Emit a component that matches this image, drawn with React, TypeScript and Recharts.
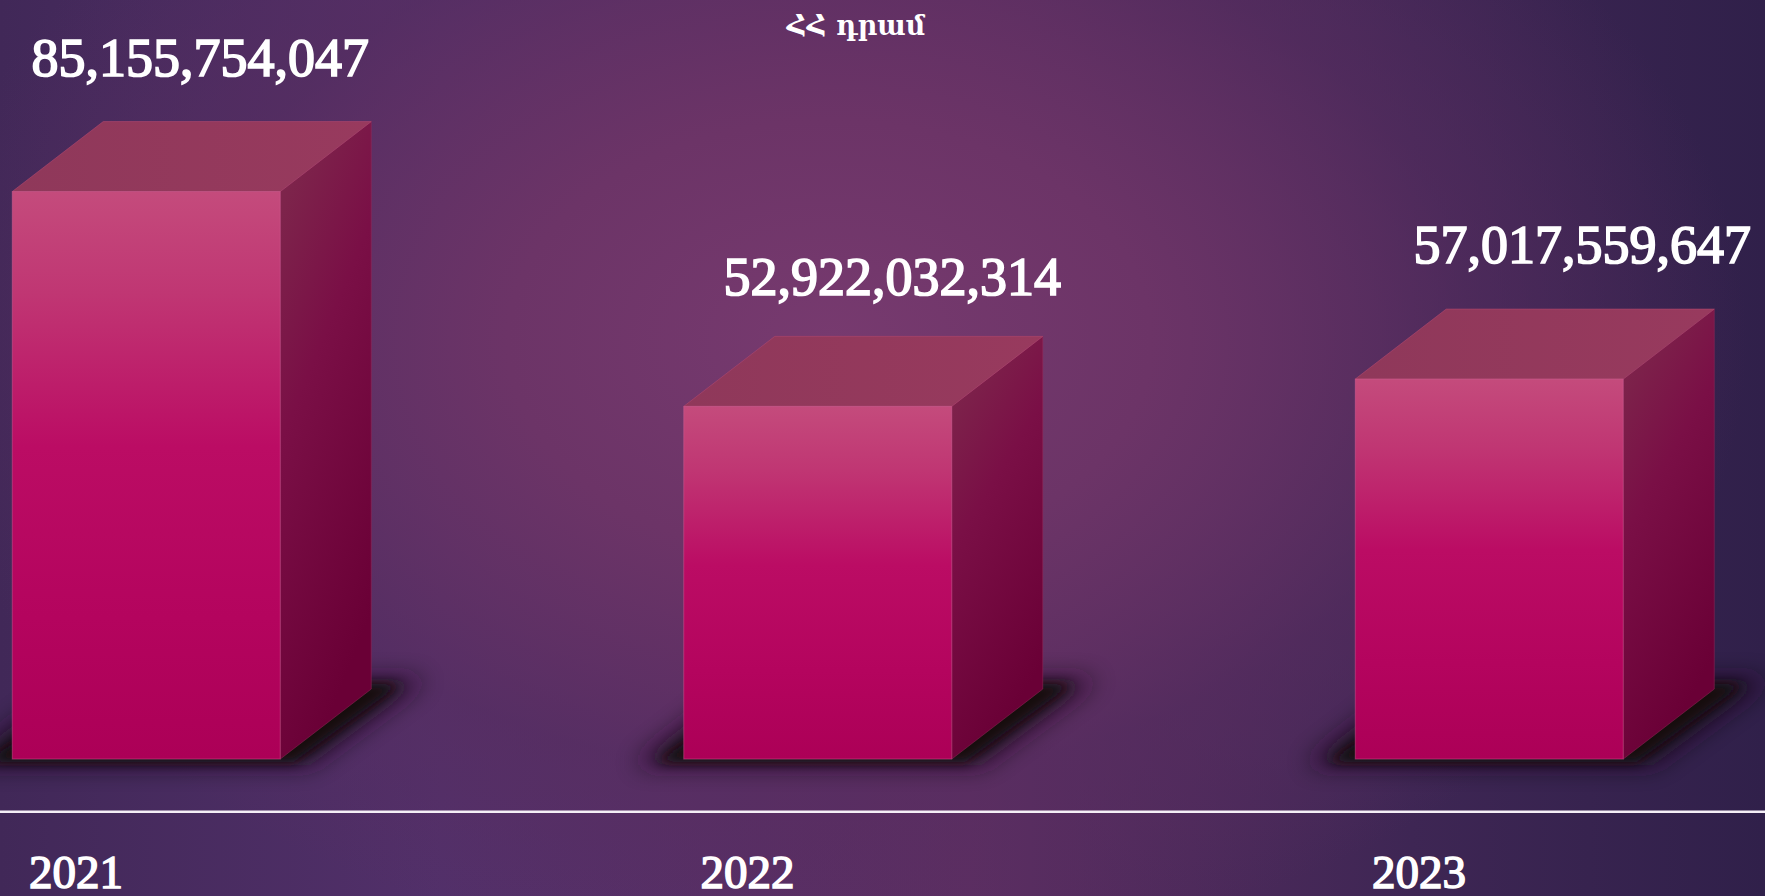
import React from 'react';
import { BarChart, Bar, XAxis, YAxis, LabelList } from 'recharts';

const years = ['2021', '2022', '2023'];
const amounts = [85155754047, 52922032314, 57017559647];
const unitTitle = 'ՀՀ դրամ';
const yDomain = [-7.9e9, 113.9e9];
const labelNudgeX = [8.5, 29, 47.5];
const labelNudgeY = [0, 5, 0];

const data = years.map((year, i) => ({ year, amount: amounts[i] }));

const DX = 91;
const DY = -70;
const SERIF = "'Liberation Serif', 'Times New Roman', serif";

const pts = (arr: number[][]) => arr.map((p) => p.join(',')).join(' ');

function Box3D(props: any) {
  const { x, y, width: w, height: h } = props;
  if (w == null || h == null) return null;
  const b = y + h;
  const shadowWide = pts([
    [x - 50, b + 6],
    [x + w + 30, b + 6],
    [x + w + DX + 55, b + DY - 10],
    [x + DX - 30, b + DY - 10],
  ]);
  const shadowTight = pts([
    [x - 28, b + 3],
    [x + w + 14, b + 3],
    [x + w + DX + 30, b + DY - 5],
    [x + DX, b + DY - 5],
  ]);
  const right = pts([
    [x + w, y],
    [x + w + DX, y + DY],
    [x + w + DX, b + DY],
    [x + w, b],
  ]);
  const top = pts([
    [x, y],
    [x + DX, y + DY],
    [x + w + DX, y + DY],
    [x + w, y],
  ]);
  return (
    <g>
      <polygon points={shadowWide} fill="#1c0b1c" opacity={0.85} filter="url(#shadowBlur)" />
      <polygon points={shadowTight} fill="#14070f" opacity={1} filter="url(#shadowBlurTight)" />
      <polygon points={right} fill="url(#rightFace)" stroke="rgba(150,40,90,0.5)" strokeWidth={1} />
      <polygon points={top} fill="url(#topFace)" stroke="rgba(175,70,110,0.6)" strokeWidth={1} />
      <rect x={x} y={y} width={w} height={h} fill="url(#frontFace)" stroke="rgba(215,100,150,0.45)" strokeWidth={1} />
    </g>
  );
}

function ValueLabel(p: any) {
  const vb = p.viewBox && p.viewBox.width != null ? p.viewBox : p;
  const { x, y, width } = vb;
  const value = p.value;
  let i = typeof p.index === 'number' ? p.index : amounts.indexOf(Number(value));
  if (i < 0) i = 0;
  return (
    <text
      x={x + width / 2 + DX / 2 + labelNudgeX[i]}
      y={y + DY - 46 + labelNudgeY[i]}
      textAnchor="middle"
      fill="#ffffff"
      stroke="#ffffff"
      strokeWidth={1.7}
      fontSize={54}
      fontWeight={400}
      fontFamily={SERIF}
    >
      {Number(value).toLocaleString('en-US')}
    </text>
  );
}

function YearTick(p: any) {
  const { x, y, payload } = p;
  return (
    <text
      x={x - 70}
      y={y + 76}
      textAnchor="middle"
      fill="#ffffff"
      stroke="#ffffff"
      strokeWidth={1.5}
      fontSize={47}
      fontWeight={400}
      fontFamily={SERIF}
    >
      {payload.value}
    </text>
  );
}

export default function App() {
  return (
    <div
      style={{
        position: 'absolute',
        left: 0,
        top: 0,
        width: 1765,
        height: 896,
        overflow: 'hidden',
        background:
          'radial-gradient(ellipse 52% 70% at 47% 38%, #773a6f 0%, #6c3467 35%, rgba(88,45,96,0.6) 70%, rgba(60,38,82,0) 100%), linear-gradient(90deg, #412858 0%, #52306a 25%, #5c2e62 55%, #3e2654 80%, #30204a 100%)',
      }}
    >
      <div
        style={{
          position: 'absolute',
          left: 706,
          top: 12,
          width: 300,
          textAlign: 'center',
          color: '#ffffff',
          fontFamily: "'DejaVu Serif', serif",
          fontWeight: 700,
          fontSize: 27,
          lineHeight: '27px',
          whiteSpace: 'nowrap',
        }}
      >
        {unitTitle}
      </div>
      <div style={{ position: 'absolute', left: 0, top: 0 }}>
        <BarChart
          width={1765}
          height={896}
          data={data}
          margin={{ top: 0, right: -59.75, bottom: 0, left: -189.75 }}
        >
          <defs>
            <linearGradient id="frontFace" x1="0" y1="0" x2="0" y2="1">
              <stop offset="0%" stopColor="#c44b7c" />
              <stop offset="18%" stopColor="#c03673" />
              <stop offset="45%" stopColor="#bb0c64" />
              <stop offset="75%" stopColor="#b4045e" />
              <stop offset="100%" stopColor="#ac0057" />
            </linearGradient>
            <linearGradient id="rightFace" x1="0" y1="0" x2="0.35" y2="1">
              <stop offset="0%" stopColor="#7e2c4d" />
              <stop offset="45%" stopColor="#7a0f46" />
              <stop offset="100%" stopColor="#6a0036" />
            </linearGradient>
            <linearGradient id="topFace" x1="0" y1="0" x2="1" y2="0">
              <stop offset="0%" stopColor="#8f385a" />
              <stop offset="100%" stopColor="#983a5e" />
            </linearGradient>
            <filter id="shadowBlur" x="-50%" y="-50%" width="200%" height="200%">
              <feGaussianBlur stdDeviation="12" />
            </filter>
            <filter id="shadowBlurTight" x="-50%" y="-50%" width="200%" height="200%">
              <feGaussianBlur stdDeviation="6" />
            </filter>
          </defs>
          <YAxis hide type="number" domain={yDomain} allowDataOverflow />
          <XAxis
            dataKey="year"
            height={84.3}
            interval={0}
            tickLine={false}
            tickSize={0}
            tickMargin={0}
            axisLine={{ stroke: '#f4eef6', strokeWidth: 2.5 }}
            tick={<YearTick />}
          />
          <Bar dataKey="amount" barSize={268} shape={<Box3D />} isAnimationActive={false}>
            <LabelList dataKey="amount" content={<ValueLabel />} />
          </Bar>
        </BarChart>
      </div>
    </div>
  );
}
